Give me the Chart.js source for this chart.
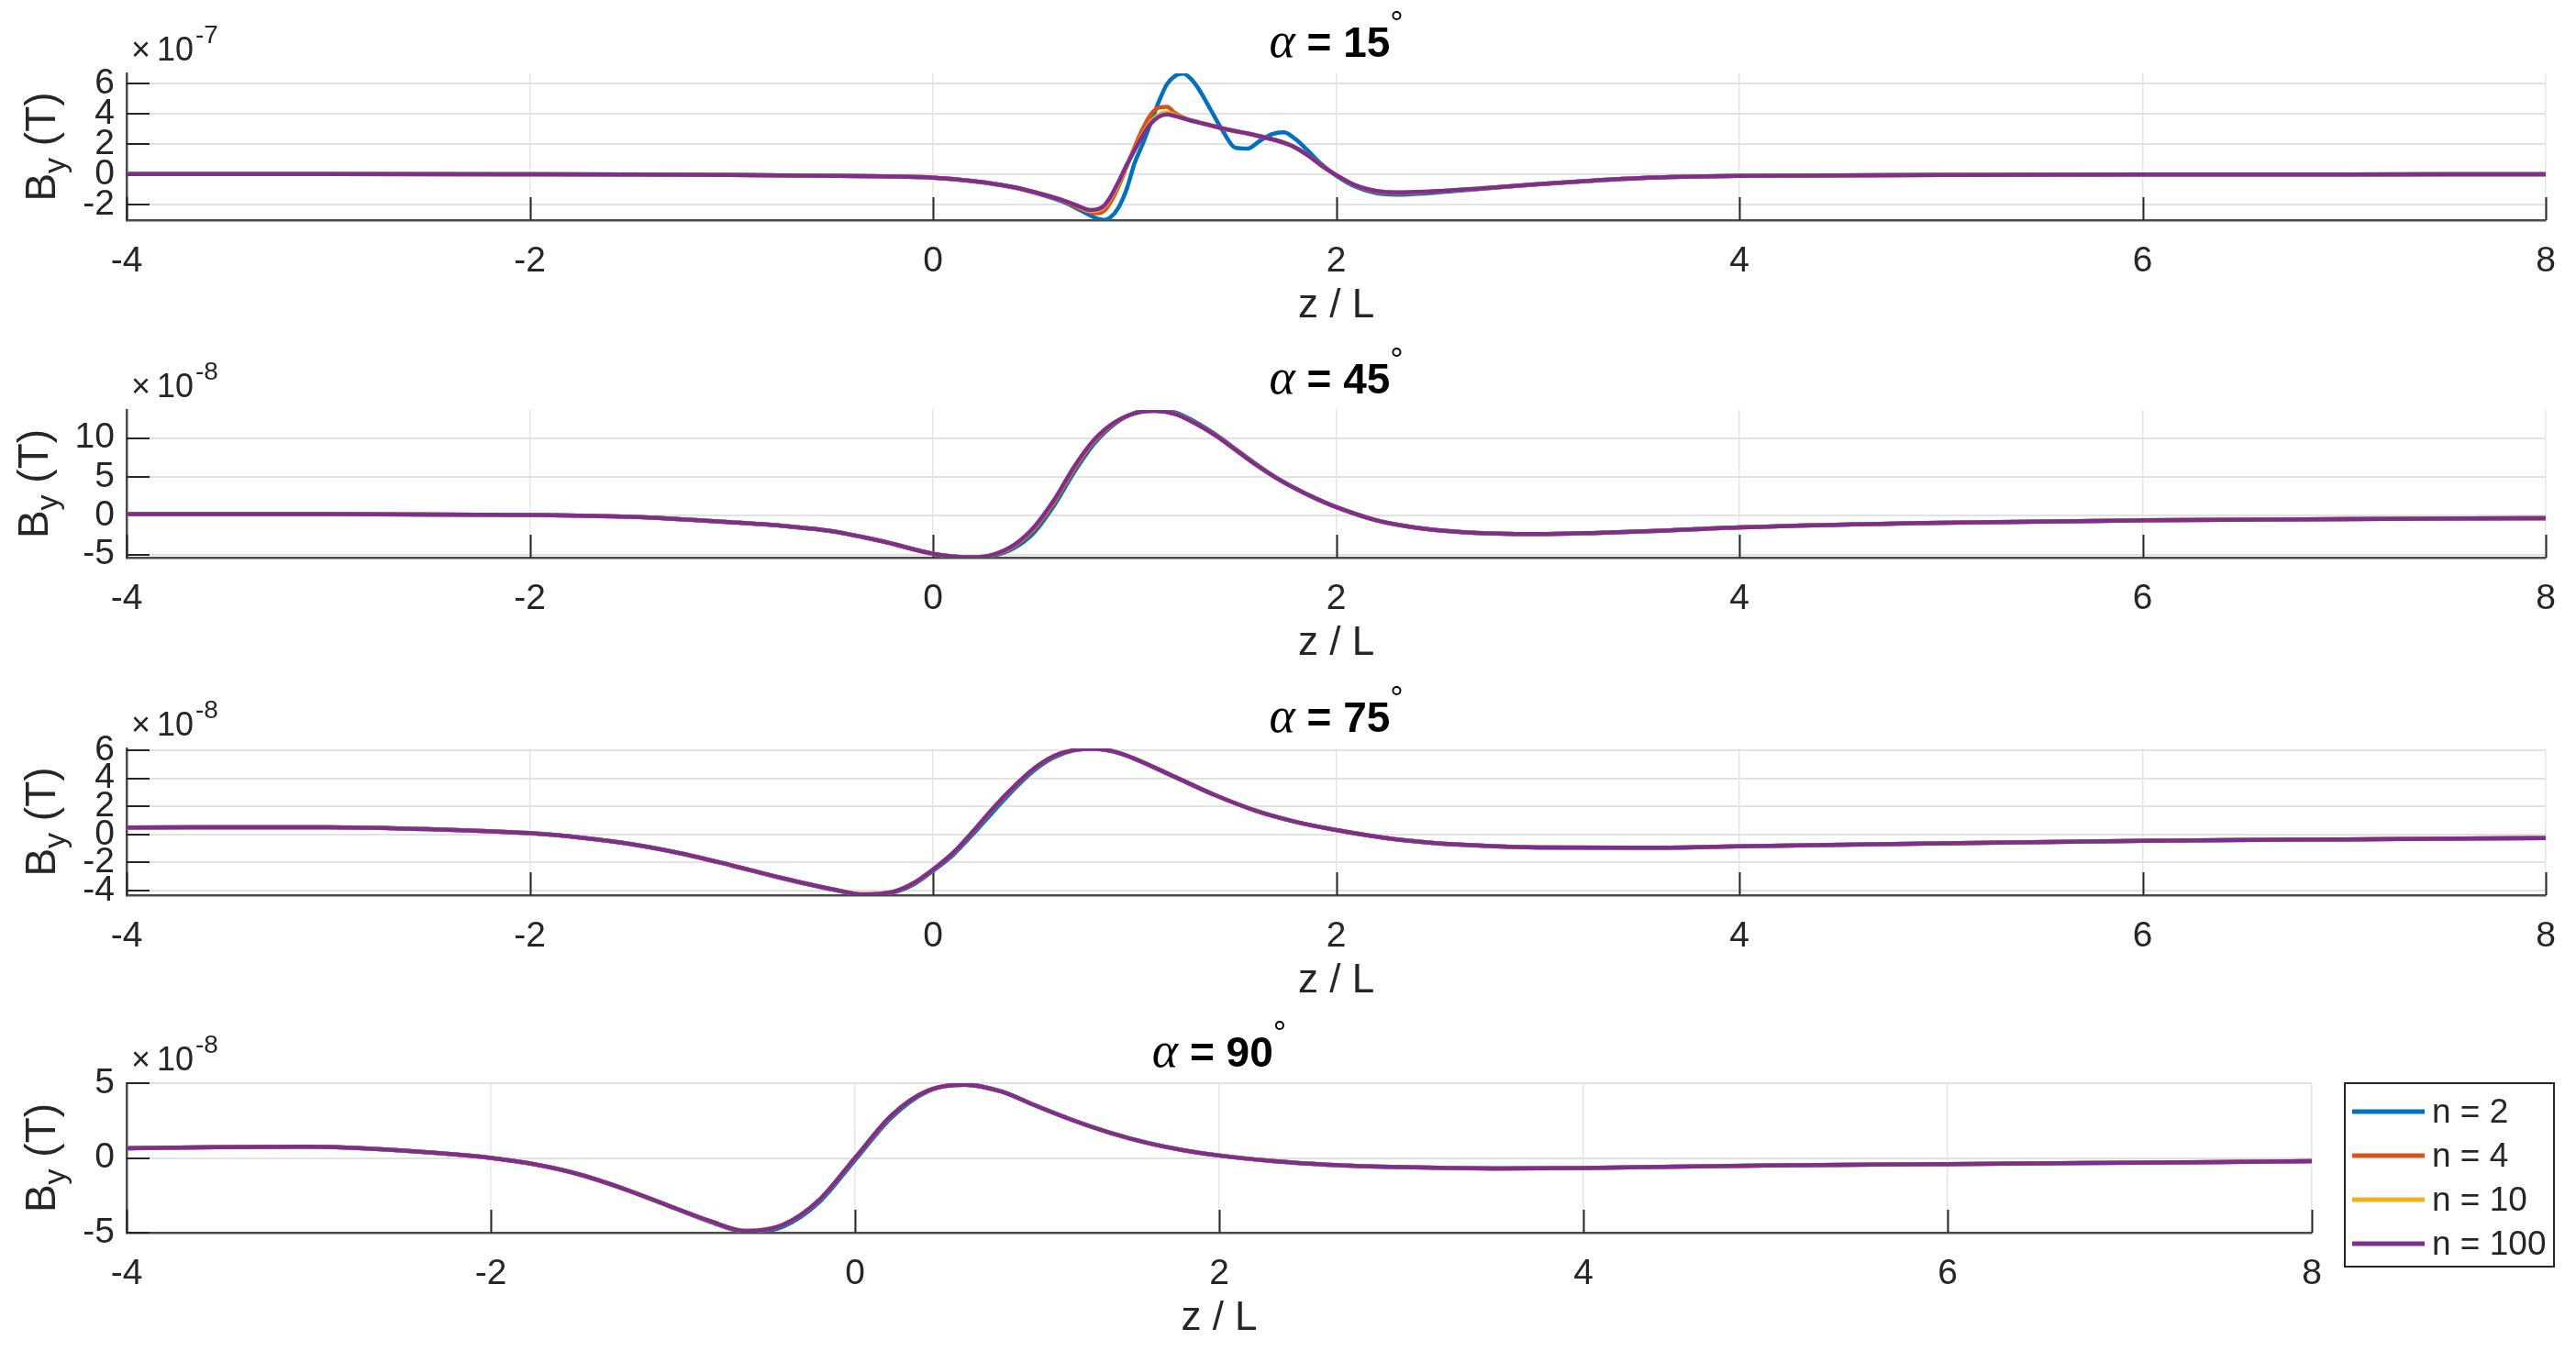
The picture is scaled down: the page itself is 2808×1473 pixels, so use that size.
<!DOCTYPE html>
<html>
<head>
<meta charset="utf-8">
<title>B_y vs z/L</title>
<script src="https://cdn.jsdelivr.net/npm/chart.js@4.4.0/dist/chart.umd.min.js"></script>
<style>
  html, body { margin: 0; padding: 0; background: #fff; }
  #wrap { position: relative; width: 2808px; height: 1473px; overflow: hidden; }
  #wrap canvas { position: absolute; left: 0; }
</style>
</head>
<body>
<div id="wrap">
  <canvas id="p15" width="2808" height="370" style="top:0px"></canvas>
  <canvas id="p45" width="2808" height="370" style="top:370px"></canvas>
  <canvas id="p75" width="2808" height="365" style="top:740px"></canvas>
  <canvas id="p90" width="2808" height="368" style="top:1105px"></canvas>
</div>
<script>
// series shared by all four panels
const seriesLabels = ['n = 2', 'n = 4', 'n = 10', 'n = 100'];
const seriesColors = ['#0072BD', '#D95319', '#EDB120', '#7E2F8E'];
const xTickStep = 2;
const xMin = -4, xMax = 8;

// alpha = 15 deg, values in units of 1e-7 T
const z15 = [-4, -3, -2, -1.5, -1, -0.5, -0.25, 0, 0.2, 0.4, 0.55, 0.65, 0.72, 0.78, 0.82, 0.85, 0.88, 0.92, 0.96, 1.0,
  1.04, 1.08, 1.12, 1.16, 1.2, 1.24, 1.28, 1.32, 1.38, 1.44, 1.5, 1.56, 1.62, 1.68, 1.74, 1.8, 1.86, 1.92, 2.0, 2.1,
  2.2, 2.3, 2.45, 2.7, 3.0, 3.5, 4, 5, 6, 7, 8];
const n2_15 = [0.02, 0.02, 0.0, -0.02, -0.05, -0.1, -0.14, -0.22, -0.46, -0.87, -1.4, -1.85, -2.3, -2.72, -2.95, -3.02, -2.85, -2.2, -1.0, 0.75,
  2.0, 3.4, 4.8, 5.95, 6.5, 6.65, 6.3, 5.6, 4.2, 2.8, 1.75, 1.7, 2.2, 2.65, 2.78, 2.3, 1.55, 0.75, -0.1, -0.85,
  -1.25, -1.35, -1.25, -0.98, -0.66, -0.25, -0.1, -0.05, -0.02, -0.01, 0.0];
const n4_15 = [0.02, 0.02, 0.0, -0.02, -0.05, -0.1, -0.14, -0.22, -0.45, -0.86, -1.37, -1.78, -2.2, -2.5, -2.58, -2.4, -1.85, -0.8, 0.5, 1.8,
  3.0, 3.95, 4.4, 4.45, 4.05, 3.75, 3.56, 3.42, 3.22, 3.02, 2.85, 2.7, 2.52, 2.33, 2.1, 1.75, 1.25, 0.65, -0.06, -0.78,
  -1.15, -1.25, -1.17, -0.95, -0.65, -0.25, -0.1, -0.05, -0.02, -0.01, 0.0];
const n10_15 = [0.02, 0.02, 0.0, -0.02, -0.05, -0.1, -0.14, -0.22, -0.45, -0.85, -1.35, -1.75, -2.12, -2.42, -2.38, -2.15, -1.6, -0.6, 0.55, 1.65,
  2.65, 3.45, 3.95, 4.08, 3.92, 3.72, 3.55, 3.42, 3.22, 3.02, 2.85, 2.7, 2.52, 2.32, 2.08, 1.75, 1.25, 0.65, -0.05, -0.75,
  -1.1, -1.2, -1.15, -0.95, -0.65, -0.25, -0.1, -0.05, -0.02, -0.01, 0.0];
const n100_15 = [0.02, 0.02, 0.0, -0.02, -0.05, -0.1, -0.14, -0.22, -0.45, -0.85, -1.35, -1.75, -2.1, -2.36, -2.3, -2.05, -1.5, -0.5, 0.6, 1.6,
  2.55, 3.35, 3.8, 3.95, 3.85, 3.7, 3.55, 3.42, 3.22, 3.02, 2.85, 2.7, 2.52, 2.32, 2.08, 1.75, 1.25, 0.65, -0.05, -0.75,
  -1.1, -1.2, -1.15, -0.95, -0.65, -0.25, -0.1, -0.05, -0.02, -0.01, 0.0];

// alpha = 45 deg, values in units of 1e-8 T
const z45 = [-4, -3, -2, -1.5, -1, -0.75, -0.5, -0.25, 0, 0.1, 0.2, 0.3, 0.4, 0.5, 0.6, 0.7, 0.8, 0.9, 1.0, 1.1,
  1.2, 1.3, 1.4, 1.5, 1.6, 1.7, 1.8, 1.9, 2.0, 2.2, 2.4, 2.6, 2.8, 3.0, 3.3, 3.6, 4, 5, 6, 7, 8];
const n2_45 = [0.2, 0.2, 0.1, -0.15, -0.85, -1.3, -2.0, -3.3, -4.9, -5.25, -5.37, -5.15, -4.2, -2.2, 1.3, 5.6, 9.3, 11.8, 13.25, 13.6,
  13.3, 12.1, 10.5, 8.6, 6.7, 4.95, 3.5, 2.22, 1.12, -0.6, -1.55, -2.05, -2.3, -2.37, -2.2, -1.95, -1.5, -0.9, -0.6, -0.43, -0.31];
const n4_45 = [0.2, 0.2, 0.1, -0.15, -0.85, -1.3, -2.0, -3.3, -4.9, -5.25, -5.35, -5.05, -3.95, -1.75, 1.7, 6.0, 9.6, 11.9, 13.2, 13.52,
  13.15, 11.95, 10.4, 8.55, 6.65, 4.92, 3.47, 2.2, 1.1, -0.6, -1.55, -2.05, -2.3, -2.37, -2.2, -1.95, -1.5, -0.9, -0.6, -0.43, -0.31];
const n10_45 = [0.2, 0.2, 0.1, -0.15, -0.85, -1.3, -2.0, -3.3, -4.9, -5.25, -5.35, -5.0, -3.82, -1.55, 1.95, 6.25, 9.75, 12.0, 13.2, 13.5,
  13.1, 11.9, 10.35, 8.5, 6.6, 4.9, 3.45, 2.2, 1.1, -0.6, -1.55, -2.05, -2.3, -2.37, -2.2, -1.95, -1.5, -0.9, -0.6, -0.43, -0.31];
const n100_45 = [0.2, 0.2, 0.1, -0.15, -0.85, -1.3, -2.0, -3.3, -4.9, -5.25, -5.35, -5.0, -3.8, -1.5, 2.0, 6.3, 9.8, 12.0, 13.2, 13.5,
  13.1, 11.9, 10.35, 8.5, 6.6, 4.9, 3.45, 2.2, 1.1, -0.6, -1.55, -2.05, -2.3, -2.37, -2.2, -1.95, -1.5, -0.9, -0.6, -0.43, -0.31];

// alpha = 75 deg, values in units of 1e-8 T
const z75 = [-4, -3, -2.5, -2, -1.75, -1.5, -1.25, -1, -0.75, -0.5, -0.35, -0.2, -0.1, 0, 0.1, 0.2, 0.3, 0.4, 0.5, 0.6,
  0.7, 0.8, 0.9, 1.0, 1.2, 1.4, 1.6, 1.8, 2.0, 2.3, 2.6, 3.0, 3.5, 4, 5, 6, 7, 8];
const n2_75 = [0.5, 0.52, 0.38, 0.1, -0.22, -0.68, -1.35, -2.2, -3.12, -3.93, -4.3, -4.15, -3.6, -2.6, -1.45, 0.05, 1.65, 3.2, 4.55, 5.5,
  6.0, 6.12, 5.92, 5.42, 4.1, 2.8, 1.7, 0.9, 0.32, -0.35, -0.72, -0.92, -0.95, -0.85, -0.63, -0.45, -0.35, -0.26];
const n4_75 = [0.5, 0.52, 0.38, 0.1, -0.22, -0.68, -1.35, -2.2, -3.1, -3.9, -4.28, -4.12, -3.52, -2.53, -1.33, 0.2, 1.85, 3.35, 4.67, 5.58,
  6.02, 6.1, 5.9, 5.4, 4.1, 2.8, 1.7, 0.9, 0.32, -0.35, -0.72, -0.92, -0.95, -0.85, -0.63, -0.45, -0.35, -0.26];
const n10_75 = [0.5, 0.52, 0.38, 0.1, -0.22, -0.68, -1.35, -2.2, -3.1, -3.9, -4.27, -4.1, -3.5, -2.5, -1.3, 0.25, 1.9, 3.4, 4.7, 5.6,
  6.02, 6.1, 5.9, 5.4, 4.1, 2.8, 1.7, 0.9, 0.32, -0.35, -0.72, -0.92, -0.95, -0.85, -0.63, -0.45, -0.35, -0.26];
const n100_75 = [0.5, 0.52, 0.38, 0.1, -0.22, -0.68, -1.35, -2.2, -3.1, -3.9, -4.27, -4.1, -3.5, -2.5, -1.3, 0.25, 1.9, 3.4, 4.7, 5.6,
  6.02, 6.1, 5.9, 5.4, 4.1, 2.8, 1.7, 0.9, 0.32, -0.35, -0.72, -0.92, -0.95, -0.85, -0.63, -0.45, -0.35, -0.26];

// alpha = 90 deg, values in units of 1e-8 T
const z90 = [-4, -3.5, -3, -2.5, -2, -1.75, -1.5, -1.25, -1, -0.8, -0.6, -0.4, -0.2, 0, 0.2, 0.4, 0.6, 0.8, 1.0, 1.2,
  1.4, 1.6, 1.8, 2.0, 2.3, 2.6, 3.0, 3.5, 4, 5, 6, 7, 8];
const n2_90 = [0.65, 0.72, 0.75, 0.5, 0.0, -0.45, -1.15, -2.15, -3.32, -4.25, -4.95, -4.62, -3.0, -0.15, 2.7, 4.45, 4.92, 4.47, 3.47, 2.52,
  1.7, 1.03, 0.53, 0.17, -0.22, -0.46, -0.62, -0.7, -0.67, -0.5, -0.42, -0.32, -0.22];
const n4_90 = [0.65, 0.72, 0.75, 0.5, 0.0, -0.45, -1.15, -2.15, -3.3, -4.22, -4.9, -4.52, -2.88, -0.03, 2.82, 4.5, 4.9, 4.45, 3.45, 2.5,
  1.68, 1.02, 0.52, 0.16, -0.22, -0.46, -0.62, -0.7, -0.67, -0.5, -0.42, -0.32, -0.22];
const n10_90 = [0.65, 0.72, 0.75, 0.5, 0.0, -0.45, -1.15, -2.15, -3.3, -4.2, -4.88, -4.5, -2.85, 0.0, 2.85, 4.5, 4.9, 4.45, 3.45, 2.5,
  1.68, 1.02, 0.52, 0.16, -0.22, -0.46, -0.62, -0.7, -0.67, -0.5, -0.42, -0.32, -0.22];
const n100_90 = [0.65, 0.72, 0.75, 0.5, 0.0, -0.45, -1.15, -2.15, -3.3, -4.2, -4.88, -4.5, -2.85, 0.0, 2.85, 4.5, 4.9, 4.45, 3.45, 2.5,
  1.68, 1.02, 0.52, 0.16, -0.22, -0.46, -0.62, -0.7, -0.67, -0.5, -0.42, -0.32, -0.22];

const SANS = '"Liberation Sans", Arial, Helvetica, sans-serif';
const TEXT = '#262626';

// draws the matlab style bits chart.js has no option for
const matlabAxes = {
  id: 'matlabAxes',
  beforeDatasetsDraw(chart) {
    const { ctx, chartArea: a, scales: { x, y } } = chart;
    ctx.save();
    ctx.strokeStyle = '#262626';
    ctx.lineWidth = 2;
    ctx.beginPath();
    x.ticks.forEach(t => {
      const px = Math.round(x.getPixelForValue(t.value)) + 0.5;
      ctx.moveTo(px, a.bottom);
      ctx.lineTo(px, a.bottom - 25);
    });
    y.ticks.forEach(t => {
      const py = Math.round(y.getPixelForValue(t.value));
      ctx.moveTo(a.left, py);
      ctx.lineTo(a.left + 25, py);
    });
    ctx.stroke();
    ctx.restore();
  },
  afterDraw(chart, args, o) {
    const { ctx, chartArea: a } = chart;
    const cx = (a.left + a.right) / 2;
    ctx.save();

    // title: alpha = NN degrees
    const parts = [
      { t: 'α', f: 'italic 54px "Liberation Serif", serif', dy: 0 },
      { t: ' = ' + o.angle, f: 'bold 46px ' + SANS, dy: 0 },
      { t: '°', f: '36px ' + SANS, dy: -24 }
    ];
    let total = 0;
    parts.forEach(p => { ctx.font = p.f; p.w = ctx.measureText(p.t).width; total += p.w; });
    let tx = cx - total / 2;
    ctx.fillStyle = '#000';
    ctx.textBaseline = 'alphabetic';
    ctx.textAlign = 'left';
    parts.forEach(p => { ctx.font = p.f; ctx.fillText(p.t, tx, a.top - 18 + p.dy); tx += p.w; });

    // exponent above the y axis
    ctx.fillStyle = TEXT;
    ctx.font = '36px ' + SANS;
    ctx.fillText('×', a.left + 5, a.top - 14);
    ctx.fillText('10', a.left + 33, a.top - 14);
    ctx.font = '28px ' + SANS;
    ctx.fillText('-' + Math.abs(o.exponent), a.left + 75, a.top - 33);

    // y label B_y (T)
    ctx.save();
    ctx.translate(o.yLabelX, (a.top + a.bottom) / 2);
    ctx.rotate(-Math.PI / 2);
    const yParts = [
      { t: 'B', f: '46px ' + SANS, dy: 0 },
      { t: 'y', f: '34px ' + SANS, dy: 11 },
      { t: ' (T)', f: '46px ' + SANS, dy: 0 }
    ];
    let yw = 0;
    yParts.forEach(p => { ctx.font = p.f; p.w = ctx.measureText(p.t).width; yw += p.w; });
    let yx = -yw / 2;
    yParts.forEach(p => { ctx.font = p.f; ctx.fillText(p.t, yx, p.dy); yx += p.w; });
    ctx.restore();

    // x label
    ctx.font = '44px ' + SANS;
    ctx.textAlign = 'center';
    ctx.textBaseline = 'middle';
    ctx.fillText('z / L', cx, a.bottom + 94);

    // legend box (last panel only)
    if (o.legend) {
      const lx = a.right + 36, ly = a.top, lw = 228, lh = 200;
      ctx.fillStyle = '#fff';
      ctx.fillRect(lx, ly, lw, lh);
      ctx.strokeStyle = '#262626';
      ctx.lineWidth = 2;
      ctx.strokeRect(lx, ly, lw, lh);
      ctx.font = '37px ' + SANS;
      ctx.textAlign = 'left';
      ctx.textBaseline = 'middle';
      chart.data.datasets.forEach((ds, i) => {
        const iy = ly + 31 + i * 48;
        ctx.strokeStyle = ds.borderColor;
        ctx.lineWidth = 5;
        ctx.beginPath();
        ctx.moveTo(lx + 8, iy);
        ctx.lineTo(lx + 87, iy);
        ctx.stroke();
        ctx.fillStyle = TEXT;
        ctx.fillText(ds.label, lx + 95, iy + 2);
      });
    }
    ctx.restore();
  }
};

function makePanel(id, zs, values, yMin, yMax, yStep, angle, exponent, layout) {
  const datasets = seriesLabels.map((label, i) => ({
    label,
    data: zs.map((z, k) => ({ x: z, y: values[i][k] })),
    borderColor: seriesColors[i],
    backgroundColor: seriesColors[i],
    borderWidth: 4.5,
    pointRadius: 0,
    cubicInterpolationMode: 'monotone',
    order: seriesLabels.length - i
  }));

  return new Chart(document.getElementById(id), {
    type: 'line',
    data: { datasets },
    plugins: [matlabAxes],
    options: {
      responsive: false,
      animation: false,
      devicePixelRatio: 1,
      layout: { padding: { top: layout.top, bottom: layout.bottom, left: 0, right: layout.right } },
      plugins: {
        legend: { display: false },
        tooltip: { enabled: false },
        matlabAxes: { angle, exponent, legend: layout.legend, yLabelX: layout.yLabelX }
      },
      scales: {
        x: {
          type: 'linear',
          min: xMin,
          max: xMax,
          afterFit: s => { s.height = 120; },
          ticks: { stepSize: xTickStep, autoSkip: false, color: TEXT, font: { family: SANS, size: 39 }, padding: 22, maxRotation: 0 },
          grid: { color: '#e6e6e6', lineWidth: 1.5, drawTicks: false },
          border: { color: '#4a4a4a', width: 2.5 }
        },
        y: {
          min: yMin,
          max: yMax,
          afterFit: s => { s.width = 138; },
          ticks: { stepSize: yStep, autoSkip: false, includeBounds: false, color: TEXT, font: { family: SANS, size: 39 }, padding: 13 },
          grid: { color: '#e2e2e2', lineWidth: 2, drawTicks: false },
          border: { color: '#4a4a4a', width: 2.5 }
        }
      }
    }
  });
}

makePanel('p15', z15, [n2_15, n4_15, n10_15, n100_15], -3.03, 6.67, 2, 15, -7,
  { top: 80, bottom: 10, right: 27, legend: false, yLabelX: 60 });
makePanel('p45', z45, [n2_45, n4_45, n10_45, n100_45], -5.4, 13.62, 5, 45, -8,
  { top: 77, bottom: 12, right: 27, legend: false, yLabelX: 52 });
makePanel('p75', z75, [n2_75, n4_75, n10_75, n100_75], -4.33, 6.14, 2, 75, -8,
  { top: 76, bottom: 9, right: 27, legend: false, yLabelX: 60 });
makePanel('p90', z90, [n2_90, n4_90, n10_90, n100_90], -5, 5, 5, 90, -8,
  { top: 76, bottom: 9, right: 288, legend: true, yLabelX: 60 });
</script>
</body>
</html>
